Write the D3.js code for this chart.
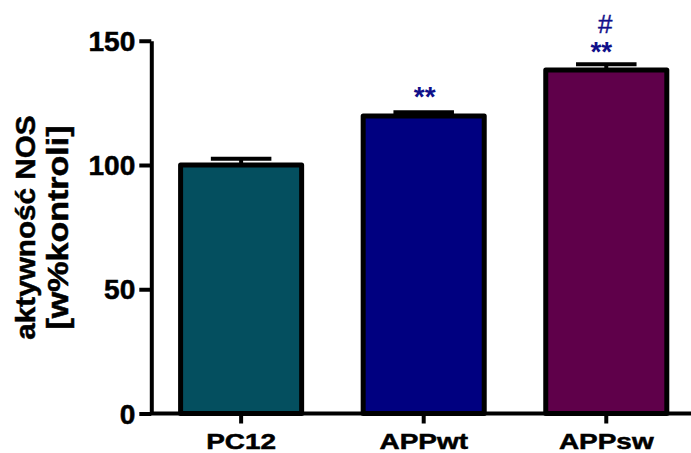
<!DOCTYPE html>
<html><head><meta charset="utf-8">
<script src="https://cdn.jsdelivr.net/npm/d3@7"></script>
<style>
body{margin:0;background:#fff}
svg{display:block}
text{font-family:"Liberation Sans",Arial,Helvetica,sans-serif}
</style>
</head><body>
<svg id="c" width="691" height="453"></svg>
<script>
// ---- data ----
const categories = ["PC12", "APPwt", "APPsw"];
const values = [100, 119.7, 138.2];
const errors = [2.5, 1.5, 2.3];
const barColors = ["#044f5f", "#000080", "#5f004a"];
const starMarks = ["", "**", "**"];
const hashMarks = ["", "", "#"];
const yTicks = [0, 50, 100, 150];
const yLabelLines = ["aktywność NOS", "[w%kontroli]"];

// ---- chart ----
const svg = d3.select("#c");
const y = d3.scaleLinear().domain([0, 150]).range([413.5, 40.75]);
const x = d3.scaleBand().domain(categories).range([152, 695.4])
  .paddingInner(0.337).paddingOuter(0.1566);
const data = categories.map((c, i) => ({c, v: values[i], e: errors[i], col: barColors[i], s: starMarks[i], h: hashMarks[i]}));

function stretch(sel, f) {
  sel.each(function () {
    const w = this.getComputedTextLength();
    d3.select(this).attr("textLength", w * f).attr("lengthAdjust", "spacingAndGlyphs");
  });
}

// bars
svg.append("g").selectAll("rect").data(data).join("rect")
  .attr("x", d => x(d.c)).attr("width", x.bandwidth())
  .attr("y", d => y(d.v)).attr("height", d => y(0) - y(d.v))
  .attr("fill", d => d.col).attr("stroke", "#000").attr("stroke-width", 5)
  .attr("stroke-linejoin", "round");

// error bars
const eg = svg.append("g").attr("stroke", "#000").attr("stroke-width", 4);
eg.selectAll(".v").data(data).join("line").attr("class", "v")
  .attr("x1", d => x(d.c) + x.bandwidth() / 2).attr("x2", d => x(d.c) + x.bandwidth() / 2)
  .attr("y1", d => y(d.v)).attr("y2", d => y(d.v + d.e));
eg.selectAll(".cap").data(data).join("line").attr("class", "cap")
  .attr("x1", d => x(d.c) + x.bandwidth() / 4).attr("x2", d => x(d.c) + 3 * x.bandwidth() / 4)
  .attr("y1", d => y(d.v + d.e)).attr("y2", d => y(d.v + d.e));

// significance marks
const mg = svg.append("g").attr("fill", "#10108a").attr("text-anchor", "middle");
mg.selectAll(".star").data(data).join("text").attr("class", "star")
  .attr("x", d => x(d.c) + x.bandwidth() / 2 + (d.h ? -5 : 1))
  .attr("y", d => y(d.v + d.e) - (d.h ? 3 : 6))
  .attr("font-size", 28).attr("font-weight", "bold")
  .text(d => d.s);
mg.selectAll(".hash").data(data).join("text").attr("class", "hash")
  .attr("x", d => x(d.c) + x.bandwidth() / 2 - 1)
  .attr("y", d => y(d.v + d.e) - 31)
  .attr("font-size", 26)
  .attr("stroke", "#10108a").attr("stroke-width", 0.4)
  .text(d => d.h);

// y axis
const ya = svg.append("g").attr("transform", "translate(151.3,0)")
  .call(d3.axisLeft(y).tickValues(yTicks).tickSize(12).tickSizeOuter(0).tickPadding(4));
ya.select(".domain").attr("stroke-width", 4).attr("stroke", "#000");
ya.selectAll(".tick line").attr("stroke-width", 4).attr("stroke", "#000");
ya.selectAll(".tick text").attr("font-size", 27).attr("font-weight", "bold")
  .attr("font-family", '"Liberation Sans",Arial,sans-serif').attr("fill", "#000")
  .attr("stroke", "#000").attr("stroke-width", 0.5)
  .attr("dy", "0.36em").call(stretch, 1.04);

// x axis
const xa = svg.append("g").attr("transform", `translate(0,${y(0)})`)
  .call(d3.axisBottom(x).tickSize(10).tickSizeOuter(0));
xa.select(".domain").attr("stroke-width", 4).attr("stroke", "#000").attr("d", `M150,0H691`);
xa.selectAll(".tick line").attr("stroke-width", 4).attr("stroke", "#000");
xa.selectAll(".tick text").attr("font-size", 22).attr("font-weight", "bold")
  .attr("font-family", '"Liberation Sans",Arial,sans-serif').attr("fill", "#000")
  .attr("stroke", "#000").attr("stroke-width", 0.5)
  .attr("dy", null).attr("y", 35).call(stretch, 1.27);

// y label
const yl = svg.append("g").attr("transform", "translate(0,227.5) rotate(-90)")
  .attr("text-anchor", "middle").attr("font-weight", "bold")
  .attr("stroke", "#000").attr("stroke-width", 0.5);
yl.append("text").attr("x", 0).attr("y", 35)
  .attr("font-size", 28).text(yLabelLines[0]).call(stretch, 1.06);
yl.append("text").attr("x", 0).attr("y", 68)
  .attr("font-size", 29).text(yLabelLines[1])
  .each(function () { d3.select(this).attr("textLength", 204).attr("lengthAdjust", "spacingAndGlyphs"); });
</script>
</body></html>
